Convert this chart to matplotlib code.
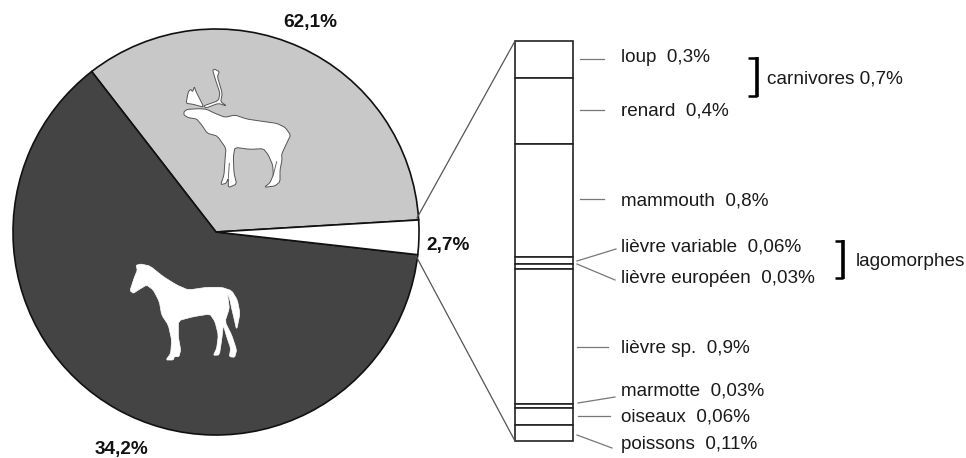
import matplotlib
matplotlib.use("Agg")
import matplotlib.pyplot as plt
import numpy as np
from matplotlib.patches import Polygon

plt.rcParams['font.family'] = ['Liberation Sans', 'DejaVu Sans']

W, H = 966, 458

# pie
pie_values = [34.2, 62.1, 2.7]
pie_colors = ['#c8c8c8', '#444444', '#ffffff']
pie_labels = ['62,1%', '34,2%', '2,7%']

# column (the segment heights do not follow the labels exactly)
stack_heights = [0.25, 0.44, 0.76, 0.05, 0.03, 0.91, 0.03, 0.11, 0.11]
stack_labels = ['loup  0,3%', 'renard  0,4%', 'mammouth  0,8%',
                'lièvre variable  0,06%', 'lièvre européen  0,03%',
                'lièvre sp.  0,9%', 'marmotte  0,03%', 'oiseaux  0,06%',
                'poissons  0,11%']
group_labels = ['carnivores 0,7%', 'lagomorphes']

# silhouettes
reindeer_body = [(252,185),(262,178),(300,176),(320,178),(345,190),(375,202),(405,195),(440,207),
                 (480,213),(530,220),(555,232),(572,255),(560,280),(545,312),(546,330),(540,360),
                 (540,395),(525,408),(493,412),(510,398),(520,375),(518,345),(505,315),(490,296),
                 (450,298),(405,292),(400,320),(402,370),(410,402),(385,413),(385,385),(378,400),
                 (362,404),(372,375),(375,330),(378,295),(352,258),(322,250),(305,225),(290,207),
                 (265,203),(252,195)]
reindeer_palm = [(258,160),(265,125),(272,118),(278,125),(283,110),(288,125),(312,172),(280,163)]
reindeer_antler = [(310,168),(355,152),(360,130),(345,85),(338,60),(345,58),(358,65),(352,80),
                   (367,130),(362,155),(380,168),(355,160),(318,174)]
reindeer_legs = [[(385,385),(388,340)], [(520,375),(530,335)]]
horse_body = [(60,122),(72,85),(82,60),(78,46),(92,42),(120,48),(160,80),(200,105),(235,120),
              (290,112),(335,112),(365,122),(382,150),(390,190),(380,240),(372,205),(365,175),
              (360,150),(350,125),(355,150),(358,175),(345,215),(365,255),(380,300),(374,322),
              (358,320),(362,295),(350,260),(340,225),(335,270),(328,315),(310,316),(320,295),
              (325,255),(315,215),(300,192),(250,200),(205,212),(205,260),(212,300),(207,320),
              (193,320),(190,330),(168,330),(182,310),(185,270),(175,225),(155,195),(148,155),
              (130,120),(110,105),(85,120),(70,130)]


def zoomed(points, x0, y0):
    return [(x0 + x / 3, y0 + y / 3) for x, y in points]


def rounded(points, n=1):
    # corner cutting, the traced outlines are too angular otherwise
    pts = np.array(points, dtype=float)
    for _ in range(n):
        nxt = np.roll(pts, -1, axis=0)
        pts = np.column_stack([0.85 * pts + 0.15 * nxt, 0.15 * pts + 0.85 * nxt]).reshape(-1, 2)
    return pts


fig = plt.figure(figsize=(W / 100, H / 100), dpi=100)

# pie axes, centre (216,232) radius 203
ax_pie = fig.add_axes([13 / W, (H - 435) / H, 406 / W, 406 / H])
ax_pie.pie(pie_values, colors=pie_colors, startangle=3.4, radius=1, counterclock=True,
           wedgeprops=dict(edgecolor='#111111', linewidth=1.2), normalize=True)
ax_pie.set_xlim(-1, 1)
ax_pie.set_ylim(-1, 1)
for p in ax_pie.patches:
    p.set_clip_on(False)

# column axes
ax_col = fig.add_axes([515 / W, (H - 441) / H, 58 / W, 400 / H])
bottoms = np.cumsum([0] + stack_heights[:-1])
ax_col.bar(0, stack_heights, bottom=bottoms, width=1, color='white', edgecolor='#222222', linewidth=1.2)
ax_col.set_xlim(-0.5, 0.5)
ax_col.set_ylim(sum(stack_heights), 0)
ax_col.axis('off')
for p in ax_col.patches:
    p.set_clip_on(False)

# overlay in pixels
ov = fig.add_axes([0, 0, 1, 1], zorder=5)
ov.set_xlim(0, W)
ov.set_ylim(H, 0)
ov.axis('off')
ov.patch.set_alpha(0)

ov.plot([417, 515], [218, 41], color='#555555', lw=0.9)
ov.plot([416, 515], [256, 441], color='#555555', lw=0.9)

for pts in [reindeer_palm, reindeer_antler, reindeer_body]:
    ov.add_patch(Polygon(rounded(zoomed(pts, 100, 50)), closed=True, facecolor='white',
                         edgecolor='#555555', linewidth=0.7))
for leg in reindeer_legs:
    xy = np.array(zoomed(leg, 100, 50))
    ov.plot(xy[:, 0], xy[:, 1], color='#555555', lw=0.6)
ov.add_patch(Polygon(rounded(zoomed(horse_body, 110, 250)), closed=True, facecolor='white',
                     edgecolor='white', linewidth=0.5))

bold_pos = [(310, 27), (121, 454), (448, 250)]
for t, (x, y) in zip(pie_labels, bold_pos):
    ov.text(x, y, t, fontsize=13.7, fontweight='bold', ha='center', va='baseline', color='#111111')

label_y = [62, 115, 205, 252, 283, 353, 395, 422, 449]
for t, y in zip(stack_labels, label_y):
    ov.text(621, y, t, fontsize=13.6, ha='left', va='baseline', color='#1a1a1a')

leaders = [((580,59),(604,59)), ((580,110),(604,110)), ((580,199),(604,199)),
           ((577,261),(616,249)), ((577,264),(615,280)), ((577,347),(608,347)),
           ((578,403),(615,397)), ((578,416),(610,416)), ((577,435),(612,448))]
for a, b in leaders:
    ov.plot([a[0], b[0]], [a[1], b[1]], color='#777777', lw=0.9)

# brackets
for x0, x1, y0, y1 in [(748, 757, 58, 96), (835, 843, 241, 278)]:
    ov.plot([x0, x1], [y0, y0], color='black', lw=1.8, solid_capstyle='butt')
    ov.plot([x0, x1], [y1, y1], color='black', lw=1.8, solid_capstyle='butt')
    ov.plot([x1, x1], [y0 - 1, y1 + 1], color='black', lw=2.6, solid_capstyle='butt')
ov.text(767, 83, group_labels[0], fontsize=13.7, ha='left', va='baseline', color='#1a1a1a')
ov.text(856, 266, group_labels[1], fontsize=13.7, ha='left', va='baseline', color='#1a1a1a')

fig.savefig('out.png', dpi=100, facecolor='white')
